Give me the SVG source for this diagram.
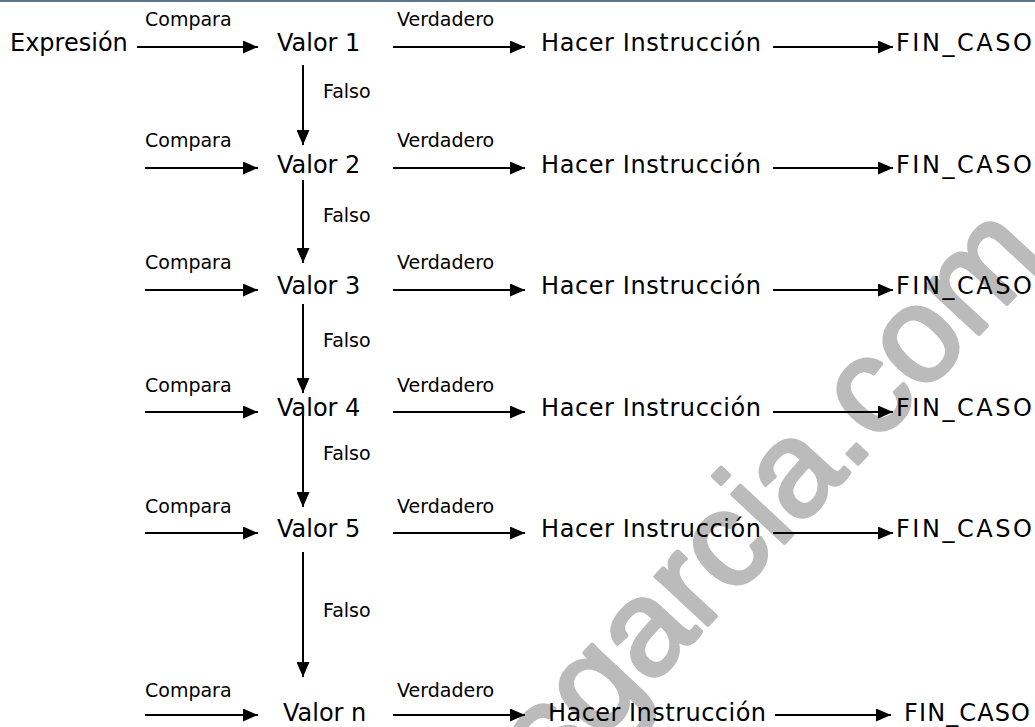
<svg xmlns="http://www.w3.org/2000/svg" width="1035" height="727" viewBox="0 0 1035 727">
<style>
.main{font-family:"DejaVu Sans",Verdana,sans-serif;font-size:24px;fill:#000}
.lbl{font-family:"DejaVu Sans",Verdana,sans-serif;font-size:19px;fill:#000}
.ln{stroke:#000;stroke-width:2;fill:none;marker-end:url(#ah)}
.wm{font-family:"Liberation Sans",Arial,sans-serif;font-size:135px;fill:#bbbbbb;stroke:#bbbbbb;stroke-width:4;stroke-linejoin:round}
</style>
<defs>
<marker id="ah" markerWidth="15" markerHeight="13" refX="15" refY="6.5" orient="auto" markerUnits="userSpaceOnUse">
<path d="M0,0 L15,6.5 L0,13 z" fill="#000"/>
</marker>
</defs>
<rect x="0" y="0" width="1035" height="727" fill="#fff"/>
<rect x="0" y="0" width="1035" height="2" fill="#5c7590"/>
<g id="watermark">
<text class="wm" x="553" y="791" transform="rotate(-47 553 791)">sgarcia.com</text>
</g>
<g id="connectors">
<line class="ln" x1="137" y1="47" x2="258" y2="47"/>
<line class="ln" x1="393" y1="47" x2="525" y2="47"/>
<line class="ln" x1="773" y1="47" x2="893" y2="47"/>
<line class="ln" x1="303" y1="65" x2="303" y2="145"/>
<line class="ln" x1="145" y1="168" x2="258" y2="168"/>
<line class="ln" x1="393" y1="168" x2="525" y2="168"/>
<line class="ln" x1="773" y1="168" x2="893" y2="168"/>
<line class="ln" x1="303" y1="180" x2="303" y2="263"/>
<line class="ln" x1="145" y1="290" x2="258" y2="290"/>
<line class="ln" x1="393" y1="290" x2="525" y2="290"/>
<line class="ln" x1="773" y1="290" x2="893" y2="290"/>
<line class="ln" x1="303" y1="304" x2="303" y2="393"/>
<line class="ln" x1="145" y1="412" x2="258" y2="412"/>
<line class="ln" x1="393" y1="412" x2="525" y2="412"/>
<line class="ln" x1="773" y1="412" x2="893" y2="412"/>
<line class="ln" x1="303" y1="415" x2="303" y2="507"/>
<line class="ln" x1="145" y1="533" x2="258" y2="533"/>
<line class="ln" x1="393" y1="533" x2="525" y2="533"/>
<line class="ln" x1="773" y1="533" x2="893" y2="533"/>
<line class="ln" x1="303" y1="552" x2="303" y2="677"/>
<line class="ln" x1="145" y1="715" x2="258" y2="715"/>
<line class="ln" x1="393" y1="715" x2="525" y2="715"/>
<line class="ln" x1="775" y1="715" x2="891" y2="715"/>
</g>
<g id="labels">
<text class="lbl" x="145" y="26">Compara</text>
<text class="lbl" x="397" y="26">Verdadero</text>
<text class="lbl" x="323" y="98">Falso</text>
<text class="lbl" x="145" y="147">Compara</text>
<text class="lbl" x="397" y="147">Verdadero</text>
<text class="lbl" x="323" y="222">Falso</text>
<text class="lbl" x="145" y="269">Compara</text>
<text class="lbl" x="397" y="269">Verdadero</text>
<text class="lbl" x="323" y="347">Falso</text>
<text class="lbl" x="145" y="392">Compara</text>
<text class="lbl" x="397" y="392">Verdadero</text>
<text class="lbl" x="323" y="460">Falso</text>
<text class="lbl" x="145" y="513">Compara</text>
<text class="lbl" x="397" y="513">Verdadero</text>
<text class="lbl" x="323" y="617">Falso</text>
<text class="lbl" x="145" y="697">Compara</text>
<text class="lbl" x="397" y="697">Verdadero</text>
</g>
<g id="expresion"><text class="main" x="10" y="51">Expresión</text></g>
<g id="valor1"><text class="main" x="277" y="51">Valor 1</text></g>
<g id="hacer1"><text class="main" x="541" y="51" textLength="220" lengthAdjust="spacing">Hacer Instrucción</text></g>
<g id="fin1"><text class="main" x="896" y="51" textLength="136" lengthAdjust="spacing">FIN_CASO</text></g>
<g id="valor2"><text class="main" x="277" y="173">Valor 2</text></g>
<g id="hacer2"><text class="main" x="541" y="173" textLength="220" lengthAdjust="spacing">Hacer Instrucción</text></g>
<g id="fin2"><text class="main" x="896" y="173" textLength="136" lengthAdjust="spacing">FIN_CASO</text></g>
<g id="valor3"><text class="main" x="277" y="294">Valor 3</text></g>
<g id="hacer3"><text class="main" x="541" y="294" textLength="220" lengthAdjust="spacing">Hacer Instrucción</text></g>
<g id="fin3"><text class="main" x="896" y="294" textLength="136" lengthAdjust="spacing">FIN_CASO</text></g>
<g id="valor4"><text class="main" x="277" y="416">Valor 4</text></g>
<g id="hacer4"><text class="main" x="541" y="416" textLength="220" lengthAdjust="spacing">Hacer Instrucción</text></g>
<g id="fin4"><text class="main" x="896" y="416" textLength="136" lengthAdjust="spacing">FIN_CASO</text></g>
<g id="valor5"><text class="main" x="277" y="537">Valor 5</text></g>
<g id="hacer5"><text class="main" x="541" y="537" textLength="220" lengthAdjust="spacing">Hacer Instrucción</text></g>
<g id="fin5"><text class="main" x="896" y="537" textLength="136" lengthAdjust="spacing">FIN_CASO</text></g>
<g id="valorn"><text class="main" x="283" y="721">Valor n</text></g>
<g id="hacern"><text class="main" x="548" y="721" textLength="218" lengthAdjust="spacing">Hacer Instrucción</text></g>
<g id="finn"><text class="main" x="904" y="721" textLength="126" lengthAdjust="spacing">FIN_CASO</text></g>
</svg>
